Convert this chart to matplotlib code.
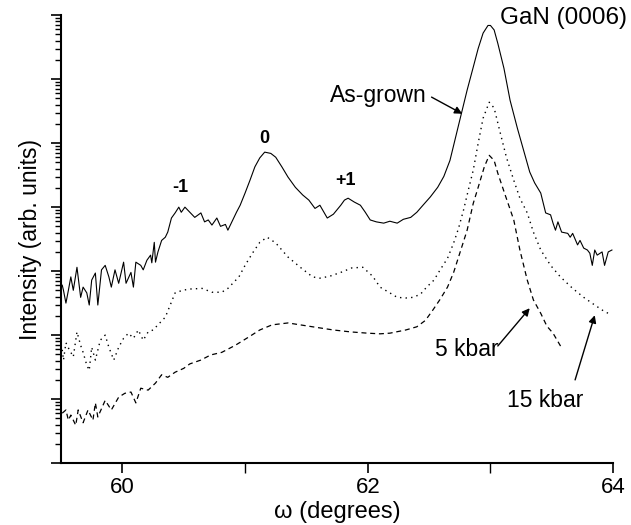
import numpy as np
import matplotlib.pyplot as plt
from matplotlib.ticker import FixedLocator, NullFormatter, LogLocator

plt.rcParams['font.family'] = ['Liberation Sans', 'DejaVu Sans']

# omega (degrees) and log10 intensity
grown_x = [59.51, 59.52, 59.54, 59.56, 59.58, 59.60, 59.63, 59.66, 59.68, 59.71,
           59.73, 59.75, 59.78, 59.80, 59.83, 59.86, 59.89, 59.91, 59.94, 59.97,
           60.01, 60.03, 60.07, 60.09, 60.11, 60.15, 60.17, 60.20, 60.23, 60.24,
           60.26, 60.27, 60.29, 60.32, 60.35, 60.37, 60.40, 60.43, 60.46, 60.48,
           60.51, 60.55, 60.59, 60.64, 60.67, 60.70, 60.73, 60.77, 60.80, 60.84,
           60.86, 60.90, 60.93, 60.96, 61.00, 61.04, 61.08, 61.12, 61.16, 61.21,
           61.25, 61.30, 61.35, 61.41, 61.47, 61.52, 61.57, 61.61, 61.67, 61.72,
           61.78, 61.81, 61.84, 61.89, 61.94, 61.98, 62.02, 62.07, 62.13, 62.18,
           62.24, 62.29, 62.35, 62.40, 62.45, 62.51, 62.57, 62.62, 62.67, 62.75,
           62.81, 62.86, 62.90, 62.94, 62.98, 63.00, 63.03, 63.06, 63.11, 63.16,
           63.22, 63.27, 63.32, 63.36, 63.41, 63.45, 63.49, 63.51, 63.53, 63.55,
           63.58, 63.63, 63.65, 63.67, 63.71, 63.73, 63.76, 63.79, 63.81, 63.83,
           63.85, 63.87, 63.91, 63.93, 63.96, 63.99]
grown_log = [2.78, 2.70, 2.50, 2.70, 2.91, 2.70, 3.06, 2.59, 2.75, 2.66,
             2.47, 2.86, 2.97, 2.47, 3.02, 3.09, 2.91, 2.75, 3.02, 2.81,
             3.14, 2.81, 2.98, 2.75, 3.14, 3.09, 3.02, 3.17, 3.25, 3.13,
             3.45, 3.14, 3.30, 3.48, 3.53, 3.61, 3.83, 3.91, 4.00, 3.92,
             4.00, 3.92, 3.84, 3.91, 3.77, 3.80, 3.72, 3.83, 3.70, 3.73,
             3.64, 3.80, 3.92, 4.03, 4.22, 4.42, 4.63, 4.77, 4.86, 4.84,
             4.78, 4.63, 4.47, 4.31, 4.19, 4.11, 3.98, 4.03, 3.83, 3.89,
             4.03, 4.11, 4.14, 4.08, 4.03, 3.92, 3.80, 3.77, 3.75, 3.78,
             3.75, 3.81, 3.84, 3.92, 4.03, 4.16, 4.31, 4.48, 4.73, 5.36,
             5.83, 6.19, 6.48, 6.72, 6.84, 6.84, 6.77, 6.56, 6.17, 5.67,
             5.23, 4.89, 4.55, 4.38, 4.22, 3.91, 3.88, 3.75, 3.64, 3.77,
             3.61, 3.59, 3.53, 3.59, 3.41, 3.48, 3.36, 3.33, 3.28, 3.09,
             3.33, 3.25, 3.30, 3.09, 3.30, 3.33]

kbar15_x = [59.51, 59.52, 59.54, 59.56, 59.60, 59.63, 59.66, 59.68, 59.71, 59.73,
            59.75, 59.78, 59.82, 59.86, 59.89, 59.93, 59.97, 60.01, 60.05, 60.09,
            60.13, 60.17, 60.21, 60.25, 60.29, 60.35, 60.39, 60.43, 60.49, 60.55,
            60.65, 60.73, 60.81, 60.86, 60.95, 61.00, 61.06, 61.12, 61.18, 61.25,
            61.35, 61.45, 61.55, 61.61, 61.69, 61.78, 61.87, 61.96, 62.04, 62.10,
            62.18, 62.24, 62.31, 62.37, 62.43, 62.48, 62.54, 62.59, 62.65, 62.70,
            62.74, 62.78, 62.82, 62.86, 62.90, 62.94, 62.99, 63.03, 63.08, 63.13,
            63.19, 63.24, 63.30, 63.35, 63.41, 63.49, 63.57, 63.67, 63.76, 63.85,
            63.92, 63.96]
kbar15_log = [1.77, 1.61, 1.88, 1.80, 1.66, 2.05, 1.84, 1.73, 1.53, 1.45,
              1.81, 1.61, 1.92, 2.00, 1.81, 1.61, 1.81, 1.95, 2.03, 1.95,
              2.08, 1.92, 2.05, 2.08, 2.16, 2.28, 2.47, 2.66, 2.70, 2.72,
              2.73, 2.67, 2.67, 2.73, 2.91, 3.09, 3.28, 3.45, 3.53, 3.44,
              3.22, 3.06, 2.91, 2.89, 2.92, 2.98, 3.05, 3.06, 2.92, 2.75,
              2.66, 2.59, 2.58, 2.59, 2.64, 2.75, 2.86, 3.02, 3.20, 3.44,
              3.67, 3.95, 4.27, 4.58, 5.00, 5.39, 5.64, 5.55, 5.16, 4.78,
              4.42, 4.14, 3.91, 3.61, 3.33, 3.09, 2.91, 2.73, 2.59, 2.47,
              2.38, 2.34]

kbar5_x = [59.51, 59.54, 59.56, 59.58, 59.62, 59.64, 59.68, 59.72, 59.76, 59.78,
           59.80, 59.86, 59.91, 59.97, 60.02, 60.07, 60.11, 60.15, 60.21, 60.27,
           60.32, 60.37, 60.43, 60.50, 60.55, 60.64, 60.72, 60.81, 60.92, 61.03,
           61.12, 61.22, 61.35, 61.45, 61.55, 61.72, 61.86, 62.00, 62.10, 62.18,
           62.31, 62.40, 62.47, 62.53, 62.59, 62.65, 62.70, 62.75, 62.81, 62.86,
           62.90, 62.95, 62.99, 63.03, 63.06, 63.12, 63.19, 63.24, 63.30, 63.35,
           63.41, 63.46, 63.51, 63.58]
kbar5_log = [0.78, 0.83, 0.67, 0.75, 0.59, 0.83, 0.63, 0.83, 0.67, 0.94,
             0.72, 0.98, 0.83, 1.03, 1.09, 1.11, 0.94, 1.17, 1.14, 1.25,
             1.38, 1.34, 1.42, 1.48, 1.55, 1.61, 1.69, 1.73, 1.84, 1.97,
             2.08, 2.16, 2.19, 2.16, 2.13, 2.08, 2.05, 2.03, 2.02, 2.03,
             2.08, 2.13, 2.23, 2.39, 2.56, 2.75, 2.98, 3.28, 3.64, 4.06,
             4.31, 4.63, 4.81, 4.73, 4.53, 4.19, 3.80, 3.33, 2.86, 2.55,
             2.34, 2.14, 2.03, 1.80]

fig = plt.figure(figsize=(6.31, 5.25), dpi=100)
ax = fig.add_axes([0.0967, 0.118, 0.875, 0.853])

ax.plot(grown_x, 10 ** np.array(grown_log), color='black', lw=0.8)
ax.plot(kbar15_x, 10 ** np.array(kbar15_log), color='black', lw=1.0,
        linestyle=(0, (1, 3)))
ax.plot(kbar5_x, 10 ** np.array(kbar5_log), color='black', lw=0.9,
        linestyle=(0, (4, 3)))

ax.set_yscale('log')
ax.set_xlim(59.5, 64.0)
ax.set_ylim(1, 1e7)

ax.xaxis.set_major_locator(FixedLocator([60, 62, 64]))
ax.xaxis.set_minor_locator(FixedLocator([61, 63]))
ax.yaxis.set_major_locator(LogLocator(base=10, numticks=20))
ax.yaxis.set_minor_locator(LogLocator(base=10, subs=np.arange(2, 10), numticks=20))
ax.yaxis.set_major_formatter(NullFormatter())
ax.yaxis.set_minor_formatter(NullFormatter())

ax.tick_params(axis='both', which='major', direction='out', length=7, width=1.2,
               labelsize=16, pad=3)
ax.tick_params(axis='both', which='minor', direction='out', length=4, width=1.0)
ax.tick_params(axis='x', which='minor', length=7)

for side in ['top', 'right']:
    ax.spines[side].set_visible(False)
for side in ['left', 'bottom']:
    ax.spines[side].set_linewidth(1.5)

ax.set_xlabel('ω (degrees)', fontsize=17, labelpad=2)
ax.set_ylabel('Intensity (arb. units)', fontsize=16.5, labelpad=4)

ax.text(60.47, 10 ** 4.3, '-1', fontsize=13, fontweight='bold', ha='center', va='center')
ax.text(61.16, 10 ** 5.08, '0', fontsize=13, fontweight='bold', ha='center', va='center')
ax.text(61.82, 10 ** 4.42, '+1', fontsize=13, fontweight='bold', ha='center', va='center')
ax.text(63.08, 10 ** 6.95, 'GaN (0006)', fontsize=17.5, ha='left', va='center')

arrow = dict(arrowstyle='-|>', color='black', lw=1.0, mutation_scale=11,
             shrinkA=0, shrinkB=0)
ax.text(62.09, 10 ** 5.75, 'As-grown', fontsize=16.5, ha='center', va='center')
ax.annotate('', xy=(62.77, 10 ** 5.46), xytext=(62.52, 10 ** 5.72),
            arrowprops=arrow)
ax.text(62.81, 10 ** 1.78, '5 kbar', fontsize=16.5, ha='center', va='center')
ax.annotate('', xy=(63.32, 10 ** 2.42), xytext=(63.06, 10 ** 1.83),
            arrowprops=arrow)
ax.text(63.45, 10 ** 0.98, '15 kbar', fontsize=16.5, ha='center', va='center')
ax.annotate('', xy=(63.85, 10 ** 2.31), xytext=(63.69, 10 ** 1.3),
            arrowprops=arrow)

fig.savefig('out.png', dpi=100)
